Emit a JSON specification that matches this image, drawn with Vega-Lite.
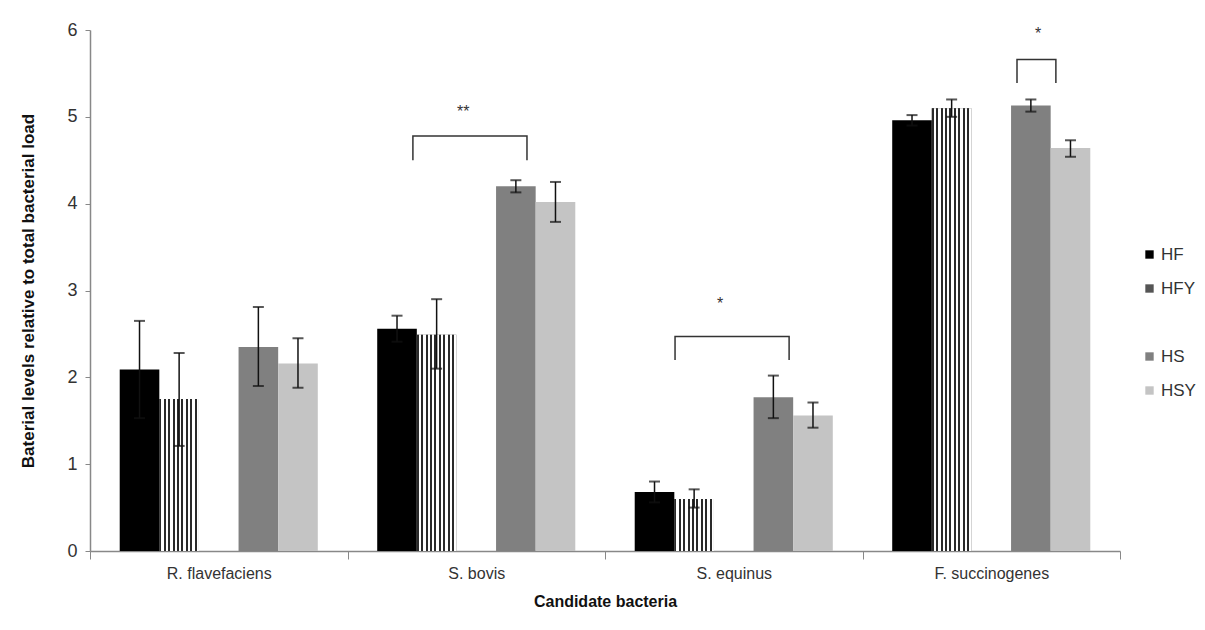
{
  "$schema": "https://vega.github.io/schema/vega-lite/v6.json",
  "width": 1030,
  "height": 521,
  "autosize": {"type": "none"},
  "padding": {"left": 90, "top": 30, "right": 85, "bottom": 79},
  "background": "white",
  "config": {
    "view": {"stroke": null},
    "font": "Liberation Sans"
  },
  "datasets": {
    "bars": [
      {"cat": "R. flavefaciens", "s": "HF", "v": 2.09, "lo": 1.53, "hi": 2.65},
      {"cat": "R. flavefaciens", "s": "HFY", "v": 1.75, "lo": 1.21, "hi": 2.28},
      {"cat": "R. flavefaciens", "s": "HS", "v": 2.35, "lo": 1.90, "hi": 2.81},
      {"cat": "R. flavefaciens", "s": "HSY", "v": 2.16, "lo": 1.88, "hi": 2.45},
      {"cat": "S. bovis", "s": "HF", "v": 2.56, "lo": 2.41, "hi": 2.71},
      {"cat": "S. bovis", "s": "HFY", "v": 2.49, "lo": 2.10, "hi": 2.90},
      {"cat": "S. bovis", "s": "HS", "v": 4.20, "lo": 4.13, "hi": 4.27},
      {"cat": "S. bovis", "s": "HSY", "v": 4.02, "lo": 3.79, "hi": 4.25},
      {"cat": "S. equinus", "s": "HF", "v": 0.68, "lo": 0.56, "hi": 0.80},
      {"cat": "S. equinus", "s": "HFY", "v": 0.60, "lo": 0.50, "hi": 0.71},
      {"cat": "S. equinus", "s": "HS", "v": 1.77, "lo": 1.53, "hi": 2.02},
      {"cat": "S. equinus", "s": "HSY", "v": 1.56, "lo": 1.42, "hi": 1.71},
      {"cat": "F. succinogenes", "s": "HF", "v": 4.96, "lo": 4.90, "hi": 5.02},
      {"cat": "F. succinogenes", "s": "HFY", "v": 5.10, "lo": 5.00, "hi": 5.20},
      {"cat": "F. succinogenes", "s": "HS", "v": 5.13, "lo": 5.06, "hi": 5.20},
      {"cat": "F. succinogenes", "s": "HSY", "v": 4.64, "lo": 4.54, "hi": 4.73}
    ],
    "brackets": [
      {"id": "b1", "ord": 1, "x": 1.254, "y": 4.50},
      {"id": "b1", "ord": 2, "x": 1.254, "y": 4.78},
      {"id": "b1", "ord": 3, "x": 1.697, "y": 4.78},
      {"id": "b1", "ord": 4, "x": 1.697, "y": 4.50},
      {"id": "b2", "ord": 1, "x": 2.272, "y": 2.20},
      {"id": "b2", "ord": 2, "x": 2.272, "y": 2.47},
      {"id": "b2", "ord": 3, "x": 2.715, "y": 2.47},
      {"id": "b2", "ord": 4, "x": 2.715, "y": 2.20},
      {"id": "b3", "ord": 1, "x": 3.600, "y": 5.39},
      {"id": "b3", "ord": 2, "x": 3.600, "y": 5.66},
      {"id": "b3", "ord": 3, "x": 3.751, "y": 5.66},
      {"id": "b3", "ord": 4, "x": 3.751, "y": 5.39}
    ],
    "stars": [
      {"x": 1.449, "y": 5.06, "t": "**"},
      {"x": 2.447, "y": 2.84, "t": "*"},
      {"x": 3.682, "y": 5.95, "t": "*"}
    ]
  },
  "layer": [
    {
      "layer": [
        {
          "mark": {"type": "bar"},
          "encoding": {
            "color": {
              "field": "s",
              "type": "nominal",
              "scale": {
                "domain": ["HF", "HFY", " ", "HS", "HSY"],
                "range": ["#000000", "#555555", "transparent", "#808080", "#c4c4c4"]
              },
              "legend": {
                "title": null,
                "orient": "none",
                "legendX": 1051,
                "legendY": 216,
                "symbolType": "square",
                "symbolSize": 70,
                "symbolStrokeWidth": 0,
                "labelFontSize": 17,
                "labelColor": "#333333",
                "labelFont": "Liberation Sans",
                "rowPadding": 16,
                "labelOffset": 3
              }
            }
          }
        },
        {
          "transform": [{"filter": "datum.s === 'HFY'"}],
          "mark": {
            "type": "bar",
            "fill": {
              "gradient": "linear", "x1": 0, "y1": 0, "x2": 1, "y2": 0,
              "stops": [
                {"offset": 0, "color": "#2a2a2a"}, {"offset": 0.05, "color": "#2a2a2a"},
                {"offset": 0.05, "color": "#fff"}, {"offset": 0.1111, "color": "#fff"},
                {"offset": 0.1111, "color": "#2a2a2a"}, {"offset": 0.1611, "color": "#2a2a2a"},
                {"offset": 0.1611, "color": "#fff"}, {"offset": 0.2222, "color": "#fff"},
                {"offset": 0.2222, "color": "#2a2a2a"}, {"offset": 0.2722, "color": "#2a2a2a"},
                {"offset": 0.2722, "color": "#fff"}, {"offset": 0.3333, "color": "#fff"},
                {"offset": 0.3333, "color": "#2a2a2a"}, {"offset": 0.3833, "color": "#2a2a2a"},
                {"offset": 0.3833, "color": "#fff"}, {"offset": 0.4444, "color": "#fff"},
                {"offset": 0.4444, "color": "#2a2a2a"}, {"offset": 0.4944, "color": "#2a2a2a"},
                {"offset": 0.4944, "color": "#fff"}, {"offset": 0.5556, "color": "#fff"},
                {"offset": 0.5556, "color": "#2a2a2a"}, {"offset": 0.6056, "color": "#2a2a2a"},
                {"offset": 0.6056, "color": "#fff"}, {"offset": 0.6667, "color": "#fff"},
                {"offset": 0.6667, "color": "#2a2a2a"}, {"offset": 0.7167, "color": "#2a2a2a"},
                {"offset": 0.7167, "color": "#fff"}, {"offset": 0.7778, "color": "#fff"},
                {"offset": 0.7778, "color": "#2a2a2a"}, {"offset": 0.8278, "color": "#2a2a2a"},
                {"offset": 0.8278, "color": "#fff"}, {"offset": 0.8889, "color": "#fff"},
                {"offset": 0.8889, "color": "#2a2a2a"}, {"offset": 0.9389, "color": "#2a2a2a"},
                {"offset": 0.9389, "color": "#fff"}, {"offset": 1, "color": "#fff"}
              ]
            }
          },
          "encoding": {}
        },
        {
          "mark": {"type": "rule", "color": "#111", "strokeWidth": 1.5},
          "encoding": {
            "y": {"field": "lo", "type": "quantitative"},
            "y2": {"field": "hi"}
          }
        },
        {
          "mark": {"type": "tick", "color": "#111", "size": 11, "thickness": 2},
          "encoding": {"y": {"field": "lo", "type": "quantitative"}}
        },
        {
          "mark": {"type": "tick", "color": "#111", "size": 11, "thickness": 2},
          "encoding": {"y": {"field": "hi", "type": "quantitative"}}
        }
      ],
      "data": {"name": "bars"},
      "encoding": {
        "x": {
          "field": "cat",
          "type": "nominal",
          "sort": ["R. flavefaciens", "S. bovis", "S. equinus", "F. succinogenes"],
          "scale": {"paddingInner": 0, "paddingOuter": 0},
          "axis": {
            "title": "Candidate bacteria",
            "titleFont": "Liberation Sans",
            "titleFontSize": 16,
            "titleFontWeight": "bold",
            "titleColor": "#111",
            "titlePadding": 12,
            "labelAngle": 0,
            "labelFont": "Liberation Sans",
            "labelFontSize": 16,
            "labelColor": "#333",
            "labelPadding": 6,
            "tickBand": "extent",
            "tickSize": 8,
            "tickColor": "#888",
            "domainColor": "#888",
            "domainWidth": 1.5
          }
        },
        "xOffset": {
          "field": "s",
          "type": "nominal",
          "scale": {"domain": ["HF", "HFY", " ", "HS", "HSY"], "paddingInner": 0, "paddingOuter": 0.75}
        },
        "y": {
          "field": "v",
          "type": "quantitative",
          "scale": {"domain": [0, 6], "nice": false},
          "axis": {
            "title": "Baterial levels relative to total bacterial load",
            "titleFont": "Liberation Sans",
            "titleFontSize": 17,
            "titleFontWeight": "bold",
            "titleColor": "#111",
            "titlePadding": 29,
            "values": [0, 1, 2, 3, 4, 5, 6],
            "format": "d",
            "grid": false,
            "labelFont": "Liberation Sans",
            "labelFontSize": 18,
            "labelColor": "#333",
            "labelPadding": 8,
            "tickSize": 5,
            "tickColor": "#888",
            "domainColor": "#888",
            "domainWidth": 1.5
          }
        }
      }
    },
    {
      "data": {"name": "brackets"},
      "mark": {"type": "line", "color": "#333", "strokeWidth": 1.5},
      "encoding": {
        "x": {"field": "x", "type": "quantitative", "scale": {"domain": [0, 4], "nice": false, "zero": false}, "axis": null},
        "y": {"field": "y", "type": "quantitative"},
        "detail": {"field": "id"},
        "order": {"field": "ord", "type": "quantitative"}
      }
    },
    {
      "data": {"name": "stars"},
      "mark": {"type": "text", "color": "#333", "fontSize": 16, "font": "Liberation Sans", "baseline": "middle"},
      "encoding": {
        "x": {"field": "x", "type": "quantitative", "scale": {"domain": [0, 4], "nice": false, "zero": false}, "axis": null},
        "y": {"field": "y", "type": "quantitative"},
        "text": {"field": "t"}
      }
    }
  ],
  "resolve": {"scale": {"x": "independent"}}
}
